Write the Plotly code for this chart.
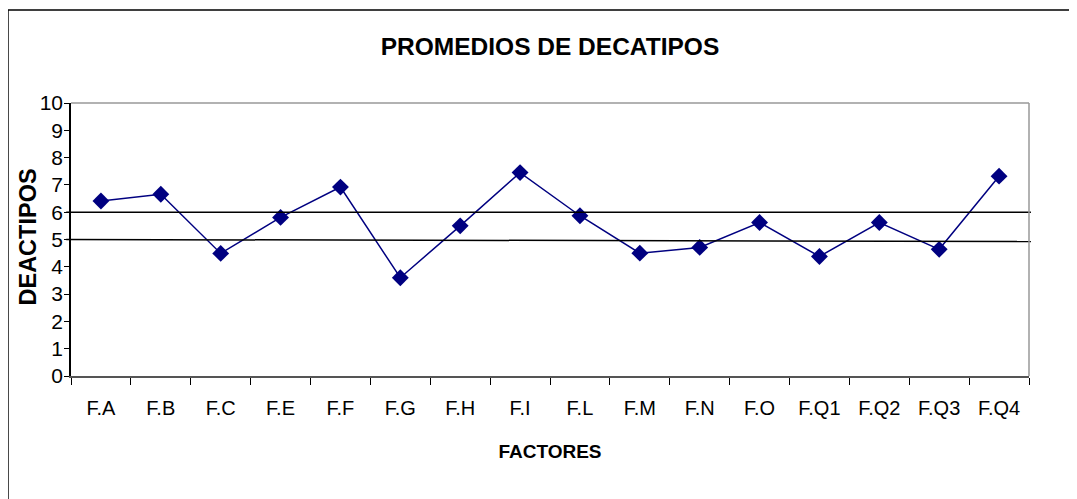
import plotly.graph_objects as go

factores = ["F.A", "F.B", "F.C", "F.E", "F.F", "F.G", "F.H", "F.I",
            "F.L", "F.M", "F.N", "F.O", "F.Q1", "F.Q2", "F.Q3", "F.Q4"]
promedios = [6.41, 6.66, 4.49, 5.81, 6.92, 3.60, 5.50, 7.45,
             5.87, 4.50, 4.71, 5.62, 4.38, 5.62, 4.64, 7.32]
limite_superior = [6.0, 6.0]
limite_inferior = [5.0, 4.93]

NAVY = "#000080"
FONT = "Liberation Sans, Arial, sans-serif"

fig = go.Figure()
fig.add_trace(go.Scatter(
    x=factores, y=promedios, mode="lines+markers",
    line=dict(color=NAVY, width=1.5),
    marker=dict(symbol="diamond", size=13, color=NAVY),
    showlegend=False, hoverinfo="x+y",
))

shapes = [
    # reference lines
    dict(type="line", xref="paper", yref="y", x0=-0.005, x1=1.002,
         y0=limite_superior[0], y1=limite_superior[1],
         line=dict(color="black", width=1.5)),
    dict(type="line", xref="paper", yref="y", x0=-0.005, x1=1.002,
         y0=limite_inferior[0], y1=limite_inferior[1],
         line=dict(color="black", width=1.5)),
    # gray plot border top/right
    dict(type="line", xref="paper", yref="paper", x0=0, x1=1, y0=1, y1=1,
         line=dict(color="#999999", width=1.5)),
    dict(type="line", xref="paper", yref="paper", x0=1, x1=1, y0=0, y1=1,
         line=dict(color="#999999", width=1.5)),
    # outer chart border
    dict(type="rect", xref="paper", yref="paper", x0=-0.0658, x1=1.2,
         y0=-0.6, y1=1.3407, line=dict(color="black", width=1.5),
         layer="below"),
]

fig.update_layout(
    width=1077, height=499,
    margin=dict(l=63, r=56, t=95, b=131, autoexpand=False),
    paper_bgcolor="white", plot_bgcolor="white",
    font=dict(family=FONT, color="black", size=20),
    title=dict(text="<b>PROMEDIOS DE DECATIPOS</b>", x=0.5, xanchor="center",
               xref="paper", y=0.922, yanchor="middle",
               font=dict(size=24.5, family=FONT)),
    shapes=shapes,
    annotations=[dict(
        text="<b>DEACTIPOS</b>", textangle=-90, xref="paper", yref="paper",
        x=0, y=0.5, xanchor="center", yanchor="middle", xshift=-44,
        yshift=2, showarrow=False, font=dict(size=23.5, family=FONT),
    )],
    xaxis=dict(
        type="category", range=[-0.5, 15.5], tickson="boundaries",
        ticks="outside", ticklen=7, tickcolor="black", tickwidth=1,
        showline=True, linecolor="#555555", linewidth=1.5,
        showgrid=False, zeroline=False, fixedrange=True, automargin=False,
        tickfont=dict(size=20), ticklabelstandoff=13,
        title=dict(text="<b>FACTORES</b>", font=dict(size=19), standoff=27),
    ),
    yaxis=dict(
        range=[0, 10], dtick=1, tick0=0,
        ticks="outside", ticklen=5, tickcolor="black", tickwidth=1,
        showline=True, linecolor="black", linewidth=1.5,
        showgrid=False, zeroline=False, fixedrange=True, automargin=False,
        tickfont=dict(size=21), ticklabelstandoff=-3,
    ),
)

fig.write_html("out.html")
